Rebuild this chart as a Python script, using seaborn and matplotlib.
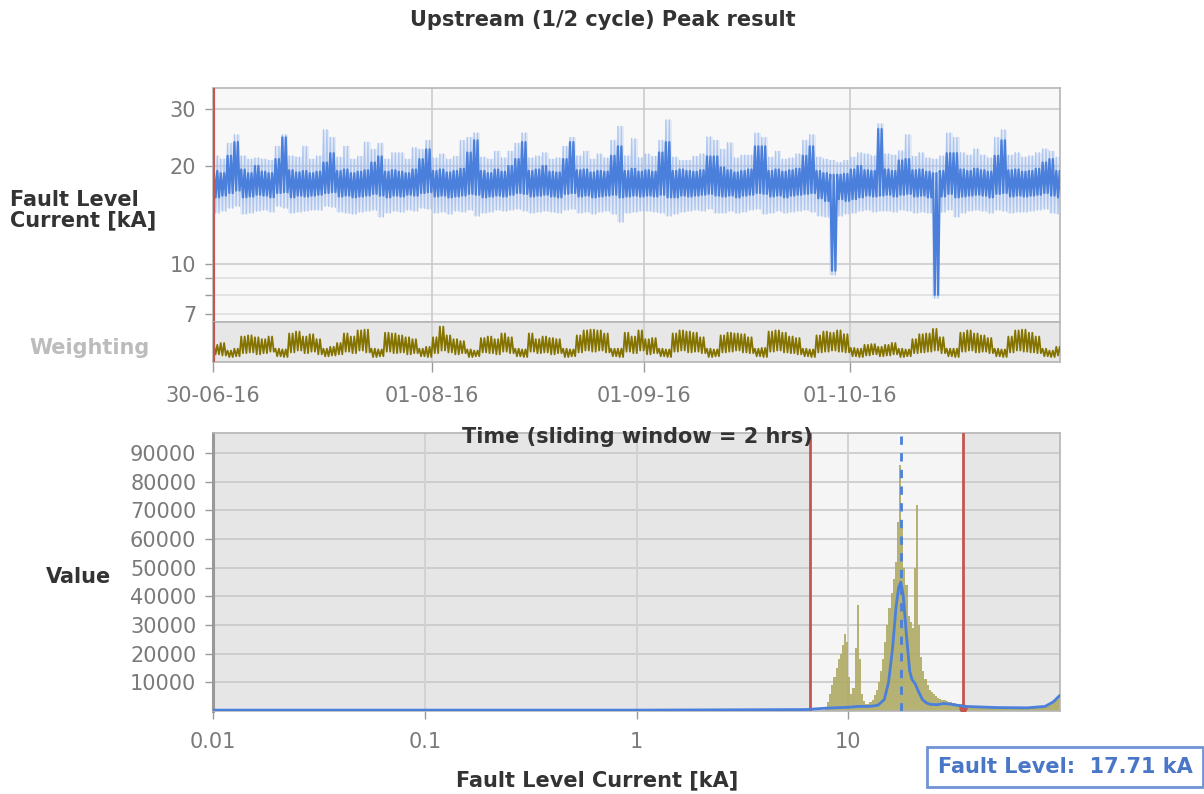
import numpy as np
import pandas as pd
import matplotlib
matplotlib.use("Agg")
import matplotlib.pyplot as plt
import matplotlib.dates as mdates
from matplotlib.ticker import FixedLocator, FixedFormatter, NullLocator
import seaborn as sns

sns.set_theme(style="white")
plt.rcParams["font.family"] = ["DejaVu Sans"]

# ---------------------------------------------------------------- data
start_date = "2016-06-30"

# daily envelope of the 2-hour sliding-window peak fault level [kA]
core_hi = [
    19.3, 19.0, 21.5, 23.7, 19.5, 19.0, 20.0, 19.2, 19.0, 21.0,
    24.5, 19.4, 19.1, 19.3, 19.0, 19.2, 20.5, 21.9, 19.3, 19.5,
    19.0, 19.2, 19.4, 20.5, 21.4, 19.2, 19.4, 19.2, 19.0, 19.5,
    21.0, 22.5, 19.3, 19.5, 19.1, 19.3, 19.6, 22.0, 24.0, 19.3,
    19.0, 19.5, 19.2, 20.0, 21.0, 23.7, 19.3, 19.5, 20.0, 19.2,
    19.1, 21.0, 23.7, 19.4, 19.5, 19.1, 19.3, 19.2, 21.5, 23.0,
    19.3, 19.6, 19.2, 19.4, 19.2, 22.0, 23.7, 19.3, 19.5, 19.3,
    19.2, 19.4, 21.4, 21.4, 19.8, 19.4, 19.1, 19.3, 19.5, 23.0,
    23.0, 19.3, 19.5, 19.2, 19.4, 19.6, 21.5, 23.0, 19.3, 19.0,
    18.8, 18.8, 18.9, 19.5, 20.0, 19.4, 19.3, 26.0, 19.5, 19.3,
    20.8, 21.0, 19.4, 19.5, 19.2, 19.0, 19.3, 21.9, 21.9, 19.5,
    19.3, 19.6, 19.4, 19.2, 21.5, 24.0, 19.4, 19.5, 19.2, 19.3,
    19.6, 20.5, 21.0, 19.3,
]
core_lo = [
    16.0, 16.2, 16.5, 16.8, 16.0, 16.1, 16.3, 16.2, 16.0, 16.5,
    16.6, 16.0, 16.2, 16.1, 16.2, 16.3, 16.5, 16.6, 16.1, 16.2,
    16.0, 16.1, 16.2, 16.4, 16.2, 16.0, 16.2, 16.1, 16.3, 16.2,
    16.5, 16.6, 16.1, 16.2, 16.0, 16.1, 16.2, 16.4, 16.3, 16.0,
    16.1, 16.2, 16.1, 16.3, 16.5, 16.4, 16.1, 16.2, 16.3, 16.1,
    16.0, 16.4, 16.5, 16.1, 16.2, 16.0, 16.1, 16.2, 16.3, 16.0,
    16.1, 16.2, 16.1, 16.2, 16.1, 16.3, 16.0, 16.0, 16.2, 16.1,
    16.2, 16.3, 16.4, 16.2, 16.1, 16.2, 16.0, 16.2, 16.3, 16.5,
    16.4, 16.1, 16.2, 16.0, 16.2, 16.3, 16.4, 16.5, 15.9, 15.6,
    9.5, 15.8, 15.6, 15.8, 16.0, 16.2, 16.1, 16.2, 16.3, 16.1,
    16.3, 16.4, 16.1, 16.2, 16.0, 8.0, 16.1, 16.4, 16.0, 16.1,
    16.2, 16.3, 16.2, 16.0, 16.4, 16.5, 16.1, 16.2, 16.1, 16.2,
    16.3, 16.5, 16.2, 16.0,
]
spread_hi = [
    21.5, 21.0, 23.5, 25.0, 21.5, 21.0, 21.2, 21.0, 20.8, 23.0,
    25.0, 21.5, 21.3, 23.0, 21.0, 21.5, 25.9, 24.5, 21.3, 23.0,
    21.0, 21.4, 23.7, 22.5, 23.5, 21.0, 22.0, 22.0, 21.0, 22.8,
    22.5, 24.0, 21.2, 21.8, 21.0, 21.4, 24.0, 24.5, 25.3, 21.3,
    21.0, 22.2, 21.2, 22.2, 23.5, 25.3, 21.2, 21.5, 22.0, 21.0,
    21.2, 23.0, 24.5, 21.5, 22.2, 21.0, 21.8, 21.2, 24.0, 26.5,
    21.5, 24.3, 21.2, 21.8, 21.4, 24.0, 27.8, 21.3, 20.8, 20.8,
    21.4, 21.8, 24.6, 24.0, 22.5, 23.6, 21.2, 21.6, 21.6, 25.3,
    24.5, 21.3, 22.2, 21.0, 21.2, 21.8, 24.0, 25.0, 21.3, 21.0,
    20.8, 20.5, 20.8, 21.3, 22.0, 21.8, 21.5, 27.0, 21.8, 21.6,
    22.3, 25.0, 21.4, 22.0, 21.2, 21.0, 21.5, 25.3, 24.5, 22.0,
    21.6, 22.6, 21.6, 21.2, 24.5, 25.9, 21.6, 22.0, 21.3, 21.5,
    22.0, 22.6, 22.2, 21.3,
]
spread_lo = [
    14.3, 14.5, 14.8, 15.0, 14.2, 14.3, 14.5, 14.6, 14.4, 15.0,
    14.8, 14.3, 14.4, 14.5, 14.6, 14.6, 15.0, 14.9, 14.4, 14.3,
    14.2, 14.4, 14.5, 14.6, 13.9, 14.3, 14.5, 14.4, 14.6, 14.5,
    14.8, 14.7, 14.3, 14.4, 14.2, 14.5, 14.4, 14.6, 14.0, 14.3,
    14.4, 14.6, 14.5, 14.6, 14.7, 14.5, 14.3, 14.4, 14.5, 14.4,
    14.3, 14.6, 14.7, 14.3, 14.4, 14.2, 14.4, 14.5, 14.2, 13.4,
    14.3, 14.4, 14.5, 14.5, 14.4, 14.3, 14.0, 14.2, 14.4, 14.5,
    14.6, 14.5, 14.7, 14.3, 14.3, 14.5, 14.3, 14.4, 14.6, 14.7,
    14.2, 14.3, 14.5, 14.3, 14.4, 14.5, 14.6, 14.4, 14.0, 13.9,
    9.2, 14.0, 14.2, 14.3, 14.5, 14.6, 14.4, 14.5, 14.5, 14.4,
    14.6, 14.5, 14.3, 14.4, 14.3, 7.8, 14.4, 14.6, 13.9, 14.3,
    14.5, 14.6, 14.5, 14.3, 14.6, 14.5, 14.3, 14.4, 14.4, 14.5,
    14.6, 14.7, 14.3, 14.2,
]

# daily weighting (relative, 0..1)
weight_hi = [
    0.40, 0.45, 0.25, 0.30, 0.62, 0.65, 0.60, 0.55, 0.62, 0.30,
    0.28, 0.70, 0.75, 0.62, 0.68, 0.55, 0.30, 0.35, 0.45, 0.70,
    0.62, 0.78, 0.80, 0.30, 0.28, 0.72, 0.70, 0.65, 0.60, 0.55,
    0.30, 0.35, 0.60, 0.88, 0.65, 0.55, 0.50, 0.28, 0.25, 0.58,
    0.62, 0.55, 0.70, 0.60, 0.30, 0.28, 0.70, 0.55, 0.62, 0.58,
    0.55, 0.30, 0.28, 0.65, 0.78, 0.80, 0.78, 0.70, 0.30, 0.30,
    0.72, 0.62, 0.78, 0.55, 0.58, 0.30, 0.28, 0.70, 0.78, 0.75,
    0.72, 0.60, 0.30, 0.28, 0.65, 0.72, 0.70, 0.68, 0.60, 0.30,
    0.32, 0.75, 0.78, 0.72, 0.62, 0.58, 0.30, 0.28, 0.65, 0.75,
    0.72, 0.78, 0.68, 0.32, 0.30, 0.40, 0.42, 0.35, 0.40, 0.45,
    0.30, 0.28, 0.55, 0.68, 0.70, 0.82, 0.60, 0.30, 0.30, 0.72,
    0.78, 0.70, 0.65, 0.58, 0.30, 0.28, 0.62, 0.78, 0.80, 0.72,
    0.62, 0.30, 0.25, 0.35,
]
weight_lo = [
    0.15, 0.12, 0.08, 0.10, 0.18, 0.20, 0.15, 0.18, 0.22, 0.10,
    0.08, 0.20, 0.25, 0.18, 0.22, 0.15, 0.10, 0.12, 0.15, 0.22,
    0.18, 0.25, 0.20, 0.08, 0.10, 0.22, 0.18, 0.20, 0.15, 0.18,
    0.10, 0.08, 0.18, 0.25, 0.20, 0.15, 0.18, 0.08, 0.10, 0.20,
    0.18, 0.15, 0.22, 0.18, 0.10, 0.08, 0.22, 0.18, 0.20, 0.15,
    0.18, 0.08, 0.10, 0.20, 0.25, 0.22, 0.25, 0.20, 0.10, 0.08,
    0.22, 0.18, 0.25, 0.15, 0.18, 0.10, 0.08, 0.22, 0.25, 0.20,
    0.22, 0.18, 0.08, 0.10, 0.20, 0.22, 0.25, 0.20, 0.18, 0.10,
    0.08, 0.22, 0.25, 0.20, 0.18, 0.15, 0.10, 0.08, 0.20, 0.22,
    0.25, 0.22, 0.20, 0.10, 0.08, 0.12, 0.15, 0.10, 0.12, 0.15,
    0.08, 0.10, 0.18, 0.20, 0.22, 0.25, 0.18, 0.10, 0.08, 0.22,
    0.25, 0.20, 0.22, 0.18, 0.10, 0.08, 0.20, 0.25, 0.22, 0.20,
    0.18, 0.10, 0.08, 0.12,
]

month_ticks = ["2016-06-30", "2016-08-01", "2016-09-01", "2016-10-01"]
month_labels = ["30-06-16", "01-08-16", "01-09-16", "01-10-16"]
time_end = "2016-10-31 16:00"

fault_grid = [7, 8, 9, 10, 20, 30]
fault_labels = ["7", "", "", "10", "20", "30"]

lower_limit = 6.6      # kA
upper_limit = 34.8     # kA
fault_level = 17.71    # kA

# histogram of fault level current: log10 bins of 0.01 decade from 10**0.86 kA
hist_log_start = 0.86
hist_log_step = 0.01
hist_counts_k = [
    0, 0, 0.3, 1.0, 3, 6, 9, 12, 15, 18,
    20, 23, 27, 24, 12, 6, 8, 22, 37, 18,
    6, 3.5, 2.5, 2.5, 3, 4, 5.5, 7.5, 10, 14,
    18, 24, 30, 36, 41, 46, 52, 66, 86, 64,
    50, 44, 33, 31, 29, 50, 72, 30, 19, 14,
    11, 9, 7.5, 6.5, 5.8, 5.2, 4.7, 4.3, 4.0, 3.7,
    3.5, 3.2, 3.0, 2.9, 2.7, 2.6, 2.4, 2.3, 2.2, 2.0,
    1.9, 1.8, 1.8, 1.7, 1.6, 1.6, 1.5, 1.5, 1.4, 1.4,
    1.3, 1.3, 1.3, 1.2, 1.2, 1.2, 1.1, 1.1, 1.1, 1.1,
    1.0, 1.0, 1.0, 1.0, 1.0, 0.9, 1.0, 0.9, 1.0, 0.9,
    1.0, 1.0, 1.1, 1.1, 1.2, 1.3,
    1.5, 1.7, 2.0, 2.4, 2.9, 3.5, 4.2, 5.0,
]

# smoothed distribution curve
curve_ka = [0.01, 1.0, 6.3, 7.9, 10.0, 11.2, 12.6, 13.8, 14.8, 15.5, 16.2,
            16.8, 17.3, 17.71, 18.2, 18.8, 19.5, 20.0, 20.7, 21.4, 22.4,
            23.4, 24.5, 26.3, 28.2, 30.2, 35.5, 50.0, 70.0, 85.0, 93.0, 100.0]
curve_k = [0.3, 0.3, 0.5, 1.0, 1.3, 1.6, 1.6, 2.0, 4.0, 10.0, 22.0,
           36.0, 43.0, 45.0, 40.0, 27.0, 14.0, 11.0, 9.5, 7.0, 4.0,
           2.8, 2.3, 2.2, 2.6, 2.4, 1.6, 1.2, 1.1, 1.6, 3.2, 5.5]

value_ticks = [10000, 20000, 30000, 40000, 50000, 60000, 70000, 80000, 90000]
current_ticks = [0.01, 0.1, 1, 10]
current_labels = ["0.01", "0.1", "1", "10"]

# ---------------------------------------------------------------- styling
BLUE = "#4a7fdc"
BLUE_LIGHT = "#a9c3ef"
OLIVE = "#857300"
HIST = "#aba75c"
RED = "#c4564f"
GRID = "#c9c9c9"
FRAME = "#b5b5b5"
TICKTXT = "#7a7a7a"
LABEL = "#333333"
FS = 15

W, H = 1204, 794
fig = plt.figure(figsize=(W / 100, H / 100), dpi=100)
fig.patch.set_facecolor("white")


def box(left, top, right, bottom):
    return [left / W, 1 - bottom / H, (right - left) / W, (bottom - top) / H]


ax_top = fig.add_axes(box(213, 88, 1060, 322))
ax_w = fig.add_axes(box(213, 322, 1060, 362), sharex=ax_top)
ax_b = fig.add_axes(box(213, 433, 1060, 711))

# ---------------------------------------------------------------- time series
n = len(core_hi)
day0 = pd.Timestamp(start_date)
day_mid = day0 + pd.to_timedelta(np.arange(n) + 0.5, unit="D")


def day_times(fracs):
    cols = [(day0 + pd.to_timedelta(np.arange(n) + f, unit="D")).values[:, None]
            for f in fracs]
    return np.concatenate(cols, axis=1).ravel()


def zig(hi, lo, reps):
    hi, lo = np.asarray(hi), np.asarray(lo)
    return np.column_stack([hi, lo] * reps).ravel()


# each day is traced as an oscillation between its high and low value
t_fine = day_times([0.125, 0.375, 0.625, 0.875])

ax_top.set_facecolor("#f8f8f8")
ax_top.set_yscale("log")
ax_top.set_ylim(lower_limit, upper_limit)
for v in fault_grid:
    ax_top.axhline(v, color=GRID if v >= 10 else "#dcdcdc", lw=1.1, zorder=0.5)

ax_top.fill_between(day_mid, spread_lo, spread_hi, step="mid",
                    color=BLUE_LIGHT, alpha=0.25, lw=0, zorder=1)
sns.lineplot(x=t_fine, y=zig(spread_hi, spread_lo, 2), ax=ax_top,
             color=BLUE_LIGHT, lw=0.9, alpha=0.9, estimator=None, sort=False,
             zorder=2)
sns.lineplot(x=t_fine, y=zig(core_hi, core_lo, 2), ax=ax_top, color=BLUE,
             lw=1.6, estimator=None, sort=False, zorder=4)

ax_top.yaxis.set_major_locator(FixedLocator(fault_grid))
ax_top.yaxis.set_major_formatter(FixedFormatter(fault_labels))
ax_top.yaxis.set_minor_locator(NullLocator())
ax_top.tick_params(axis="y", which="major", left=True, length=6, width=1,
                   color="#9a9a9a", labelsize=FS, labelcolor=TICKTXT, pad=6)
ax_top.tick_params(axis="x", which="both", bottom=False, labelbottom=False)
ax_top.set_xlabel("")
ax_top.set_ylabel("")

# weighting strip
ax_w.set_facecolor("#e7e7e7")
ax_w.set_ylim(-0.05, 1.0)
sns.lineplot(x=t_fine, y=zig(weight_hi, weight_lo, 2), ax=ax_w, color=OLIVE,
             lw=1.3, estimator=None, sort=False, zorder=3)
ax_w.set_yticks([])
ax_w.set_xlabel("")
ax_w.set_ylabel("")

tick_dates = [pd.Timestamp(d) for d in month_ticks]
ax_w.set_xlim(day0, pd.Timestamp(time_end))
ax_w.xaxis.set_major_locator(FixedLocator(mdates.date2num(tick_dates)))
ax_w.xaxis.set_major_formatter(FixedFormatter(month_labels))
ax_w.xaxis.set_minor_locator(NullLocator())
ax_w.tick_params(axis="x", bottom=True, length=7, width=1, color="#9a9a9a",
                 labelsize=FS, labelcolor=TICKTXT, pad=10)

for a in (ax_top, ax_w):
    for d in tick_dates[1:]:
        a.axvline(d, color=GRID, lw=1.1, zorder=0.6)
    a.axvline(day0, color=RED, lw=3, zorder=6)
    for s in a.spines.values():
        s.set_color(FRAME)
        s.set_linewidth(1.2)

# ---------------------------------------------------------------- histogram
ax_b.set_facecolor("#e6e6e6")
ax_b.set_xscale("log")
ax_b.set_xlim(0.01, 100)
ax_b.set_ylim(0, 97000)
ax_b.axvspan(lower_limit, upper_limit, color="#f5f5f5", lw=0, zorder=0.2)
for v in value_ticks:
    ax_b.axhline(v, color=GRID, lw=1.2, zorder=0.5)
for v in current_ticks[1:]:
    ax_b.axvline(v, color="#d2d2d2", lw=1.4, zorder=0.5)

edges = 10 ** (hist_log_start + hist_log_step * np.arange(len(hist_counts_k) + 1))
counts = np.array(hist_counts_k) * 1000
ax_b.bar(edges[:-1], counts, width=np.diff(edges), align="edge",
         color=HIST, alpha=0.85, lw=0, zorder=2)

ax_b.axvline(lower_limit, color=RED, lw=2, zorder=4)
ax_b.axvline(upper_limit, color=RED, lw=2, zorder=4)
ax_b.plot([upper_limit], [900], "o", color=RED, ms=5, zorder=5)
ax_b.axvline(fault_level, color=BLUE, lw=2, ls=(0, (3, 3)), zorder=4)
sns.lineplot(x=curve_ka, y=np.array(curve_k) * 1000, ax=ax_b, color=BLUE,
             lw=2, estimator=None, zorder=5)

ax_b.yaxis.set_major_locator(FixedLocator(value_ticks))
ax_b.yaxis.set_major_formatter(FixedFormatter([str(v) for v in value_ticks]))
ax_b.xaxis.set_major_locator(FixedLocator(current_ticks))
ax_b.xaxis.set_major_formatter(FixedFormatter(current_labels))
ax_b.xaxis.set_minor_locator(NullLocator())
ax_b.tick_params(axis="both", length=6, width=1, color="#9a9a9a",
                 labelsize=FS, labelcolor=TICKTXT, left=True, bottom=True)
ax_b.tick_params(axis="x", pad=9)
ax_b.tick_params(axis="y", pad=6)
ax_b.set_xlabel("")
ax_b.set_ylabel("")
for s in ax_b.spines.values():
    s.set_color(FRAME)
    s.set_linewidth(1.2)
ax_b.spines["left"].set_color("#999999")
ax_b.spines["left"].set_linewidth(2.2)

# ---------------------------------------------------------------- text
bold = dict(fontsize=FS, fontweight="bold", color=LABEL)
fig.text(603 / W, 1 - 20 / H, "Upstream (1/2 cycle) Peak result",
         ha="center", va="center", **bold)
fig.text(10 / W, 1 - 210 / H, "Fault Level\nCurrent [kA]", ha="left",
         va="center", linespacing=1.05, **bold)
fig.text(90 / W, 1 - 348 / H, "Weighting", ha="center", va="center",
         fontsize=FS, fontweight="bold", color="#bcbcbc")
fig.text(79 / W, 1 - 577 / H, "Value", ha="center", va="center", **bold)
fig.text(637 / W, 1 - 437 / H, "Time (sliding window = 2 hrs)",
         ha="center", va="center", zorder=10, **bold)
fig.text(597 / W, 1 - 780 / H, "Fault Level Current [kA]",
         ha="center", va="center", **bold)
fig.text(1065 / W, 1 - 767 / H, f"Fault Level:  {fault_level:.2f} kA",
         ha="center", va="center", fontsize=FS, fontweight="bold",
         color="#4a76c8",
         bbox=dict(boxstyle="square,pad=0.5", fc="white", ec="#6f94d6", lw=2))

fig.savefig("out.png", dpi=100)
